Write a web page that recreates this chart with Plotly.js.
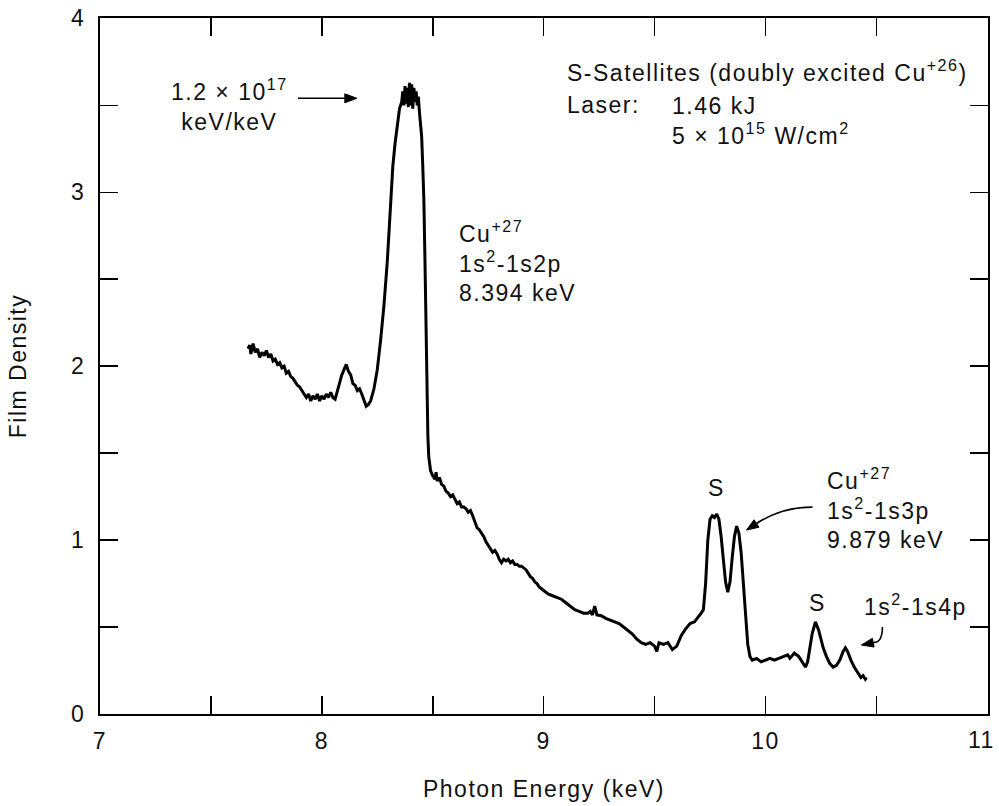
<!DOCTYPE html>
<html>
<head>
<meta charset="utf-8">
<script src="https://cdn.plot.ly/plotly-3.0.1.min.js"></script>
<style>
html,body{margin:0;padding:0;background:#fff;}
#chart{width:999px;height:806px;}
svg text{letter-spacing:1.5px;}
</style>
</head>
<body>
<div id="chart"></div>
<script>
// Photon energy (keV)
const energy = [
7.667,7.675,7.68,7.69,7.70,7.71,7.72,7.73,7.74,7.75,7.76,7.77,7.78,7.79,7.80,7.81,7.82,7.83,7.84,7.85,
7.86,7.87,7.88,7.89,7.90,7.91,7.92,7.93,7.94,7.95,7.96,7.97,7.98,7.99,8.00,8.01,8.02,8.03,8.04,8.05,
8.06,8.07,8.08,8.09,8.10,8.11,8.12,8.13,8.14,8.15,8.16,8.17,8.18,8.19,8.20,8.21,8.22,8.235,8.25,8.265,
8.28,8.295,8.31,8.32,8.33,8.34,8.35,8.36,8.365,8.37,8.375,8.38,8.385,8.39,8.395,8.40,8.405,8.41,8.415,8.42,
8.425,8.43,8.435,8.44,8.445,8.45,8.455,8.46,8.465,8.47,8.474,8.478,8.482,8.49,8.50,8.51,8.515,8.52,8.53,8.54,
8.55,8.56,8.57,8.58,8.59,8.60,8.61,8.62,8.63,8.64,8.65,8.66,8.67,8.68,8.69,8.70,8.71,8.72,8.73,8.74,
8.75,8.76,8.77,8.78,8.79,8.80,8.81,8.82,8.83,8.84,8.85,8.86,8.87,8.88,8.89,8.90,8.91,8.92,8.93,8.94,
8.95,8.96,8.97,8.98,8.99,9.00,9.02,9.04,9.06,9.08,9.10,9.12,9.14,9.16,9.18,9.20,9.21,9.22,9.23,9.24,
9.26,9.28,9.30,9.32,9.34,9.36,9.38,9.40,9.42,9.44,9.46,9.48,9.50,9.51,9.52,9.54,9.56,9.58,9.60,9.62,
9.64,9.66,9.68,9.70,9.71,9.72,9.73,9.74,9.75,9.76,9.77,9.78,9.79,9.80,9.81,9.82,9.83,9.84,9.85,9.86,
9.87,9.88,9.89,9.90,9.91,9.92,9.93,9.94,9.96,9.98,10.00,10.02,10.04,10.06,10.08,10.10,10.11,10.13,10.15,10.17,
10.18,10.19,10.20,10.21,10.225,10.24,10.25,10.26,10.275,10.29,10.305,10.32,10.335,10.35,10.36,10.37,10.385,10.40,10.415,10.43,
10.44,10.45,10.455
];
// Film density
const density = [
2.10,2.12,2.07,2.13,2.08,2.10,2.05,2.08,2.06,2.09,2.05,2.07,2.03,2.04,2.01,2.02,1.99,2.00,1.96,1.97,
1.94,1.93,1.91,1.89,1.88,1.86,1.84,1.82,1.84,1.80,1.83,1.81,1.84,1.80,1.83,1.81,1.84,1.82,1.85,1.82,
1.81,1.86,1.91,1.95,1.98,2.01,1.97,1.95,1.90,1.89,1.86,1.87,1.84,1.80,1.77,1.78,1.80,1.87,1.98,2.15,
2.35,2.60,2.90,3.15,3.28,3.38,3.48,3.52,3.58,3.50,3.61,3.51,3.60,3.49,3.63,3.50,3.62,3.48,3.60,3.52,
3.58,3.50,3.55,3.46,3.40,3.32,3.15,2.95,2.60,2.20,1.85,1.60,1.48,1.40,1.37,1.35,1.39,1.34,1.36,1.32,
1.31,1.28,1.27,1.25,1.26,1.23,1.21,1.22,1.19,1.19,1.18,1.16,1.17,1.14,1.10,1.07,1.06,1.04,1.02,0.99,
0.97,0.95,0.93,0.94,0.92,0.89,0.87,0.89,0.88,0.89,0.87,0.88,0.86,0.86,0.85,0.85,0.84,0.83,0.81,0.79,
0.78,0.76,0.75,0.73,0.72,0.71,0.69,0.68,0.67,0.66,0.64,0.62,0.60,0.59,0.58,0.58,0.59,0.57,0.62,0.57,
0.565,0.55,0.54,0.53,0.52,0.50,0.48,0.46,0.43,0.41,0.40,0.41,0.39,0.36,0.41,0.40,0.41,0.37,0.39,0.45,
0.49,0.52,0.53,0.56,0.58,0.60,0.75,1.00,1.12,1.14,1.13,1.15,1.12,1.02,0.90,0.76,0.70,0.76,0.90,1.02,
1.08,1.04,0.93,0.75,0.56,0.40,0.33,0.31,0.32,0.30,0.31,0.32,0.31,0.32,0.33,0.34,0.32,0.35,0.33,0.29,
0.27,0.30,0.38,0.46,0.53,0.48,0.43,0.38,0.33,0.29,0.27,0.28,0.31,0.36,0.38,0.36,0.31,0.27,0.24,0.21,
0.22,0.20,0.21
];
const xTickVals = [7, 8, 9, 10];
const xTickText = ['7', '8', '9', '10'];
const xLastTick = 11;
const xLastText = '11';
const yTickVals = [0, 1, 2, 3, 4];
const yTickText = ['0', '1', '2', '3', '4'];

const FONT = 'Liberation Sans, Arial, Helvetica, sans-serif';
const txt = {family: FONT, size: 23, color: '#111'};

const trace = {
  x: energy, y: density, type: 'scatter', mode: 'lines',
  line: {color: '#000', width: 3}, hoverinfo: 'skip'
};

const annotations = [
  {x: 7.586, y: 3.50, xref: 'x', yref: 'y', text: '1.2 × 10<sup>17</sup><br>keV/keV', showarrow: false, font: txt, align: 'center'},
  {x: 9.095, y: 3.70, xref: 'x', yref: 'y', text: 'S-Satellites (doubly excited Cu<sup>+26</sup>)', showarrow: false, font: txt, xanchor: 'left', yanchor: 'middle'},
  {x: 9.095, y: 3.50, xref: 'x', yref: 'y', text: 'Laser:', showarrow: false, font: txt, xanchor: 'left', yanchor: 'middle'},
  {x: 9.568, y: 3.50, xref: 'x', yref: 'y', text: '1.46 kJ<br>5 × 10<sup>15</sup> W/cm<sup>2</sup>', showarrow: false, font: txt, xanchor: 'left', yanchor: 'top', yshift: 14, align: 'left'},
  {x: 8.608, y: 2.87, xref: 'x', yref: 'y', text: 'Cu<sup>+27</sup><br>1s<sup>2</sup>-1s2p<br>8.394 keV', showarrow: false, font: txt, xanchor: 'left', yanchor: 'top', align: 'left'},
  {x: 10.266, y: 1.45, xref: 'x', yref: 'y', text: 'Cu<sup>+27</sup><br>1s<sup>2</sup>-1s3p<br>9.879 keV', showarrow: false, font: txt, xanchor: 'left', yanchor: 'top', align: 'left'},
  {x: 9.779, y: 1.30, xref: 'x', yref: 'y', text: 'S', showarrow: false, font: txt},
  {x: 10.234, y: 0.638, xref: 'x', yref: 'y', text: 'S', showarrow: false, font: txt},
  {x: 10.437, y: 0.626, xref: 'x', yref: 'y', text: '1s<sup>2</sup>-1s4p', showarrow: false, font: txt, xanchor: 'left'},
  // last x tick label, kept inside the page edge
  {x: xLastTick, y: -0.038, xref: 'x', yref: 'paper', text: xLastText, showarrow: false, font: txt, xanchor: 'right', yanchor: 'middle', xshift: 10}
];

const blk = {color: '#000', width: 1.6};
const shapes = [
  // arrow to main peak
  {type: 'line', xref: 'x', yref: 'y', x0: 7.8919, y0: 3.5402, x1: 8.1036, y1: 3.5402, line: blk},
  {type: 'path', xref: 'x', yref: 'y', path: 'M 8.1577 3.5402 L 8.1036 3.5661 L 8.1036 3.5143 Z', line: {color: '#000', width: 1}, fillcolor: '#000'},
  // curved arrow to 1s2-1s3p
  {type: 'path', xref: 'x', yref: 'y', path: 'M 10.2117 1.1897 Q 10.0721 1.1897 9.9595 1.0954', line: blk},
  {type: 'path', xref: 'x', yref: 'y', path: 'M 9.9144 1.0575 L 9.9707 1.0741 L 9.9482 1.1167 Z', line: {color: '#000', width: 1}, fillcolor: '#000'},
  // curved arrow to 1s2-1s4p
  {type: 'path', xref: 'x', yref: 'y', path: 'M 10.527 0.50 Q 10.527 0.408 10.4856 0.4103', line: blk},
  {type: 'path', xref: 'x', yref: 'y', path: 'M 10.4324 0.3966 L 10.4896 0.3851 L 10.4815 0.4356 Z', line: {color: '#000', width: 1}, fillcolor: '#000'}
];

const axisCommon = {
  showgrid: false, zeroline: false, showline: true, linecolor: '#000', linewidth: 2,
  mirror: 'ticks', ticks: 'inside', ticklen: 18, tickwidth: 1.5, tickcolor: '#000',
  tickfont: txt, tickmode: 'array'
};

const layout = {
  width: 999, height: 806,
  margin: {l: 100, r: 11, t: 18, b: 92},
  paper_bgcolor: '#fff', plot_bgcolor: '#fff',
  showlegend: false,
  font: txt,
  xaxis: Object.assign({}, axisCommon, {
    range: [7, 11.003], tickvals: xTickVals, ticktext: xTickText, ticklabelstandoff: 5,
    minor: {tickmode: 'linear', tick0: 7.5, dtick: 1, ticks: 'inside', ticklen: 18, tickwidth: 1.5, tickcolor: '#000', showgrid: false},
    title: {text: 'Photon Energy (keV)', font: txt, standoff: 28}
  }),
  yaxis: Object.assign({}, axisCommon, {
    range: [0, 4.002], tickvals: yTickVals, ticktext: yTickText, ticklabelstandoff: 8,
    minor: {tickmode: 'linear', tick0: 0.5, dtick: 1, ticks: 'inside', ticklen: 18, tickwidth: 1.5, tickcolor: '#000', showgrid: false},
    title: {text: 'Film Density', font: txt, standoff: 38}
  }),
  annotations: annotations,
  shapes: shapes
};

Plotly.newPlot('chart', [trace], layout, {staticPlot: true, displayModeBar: false});
</script>
</body>
</html>
